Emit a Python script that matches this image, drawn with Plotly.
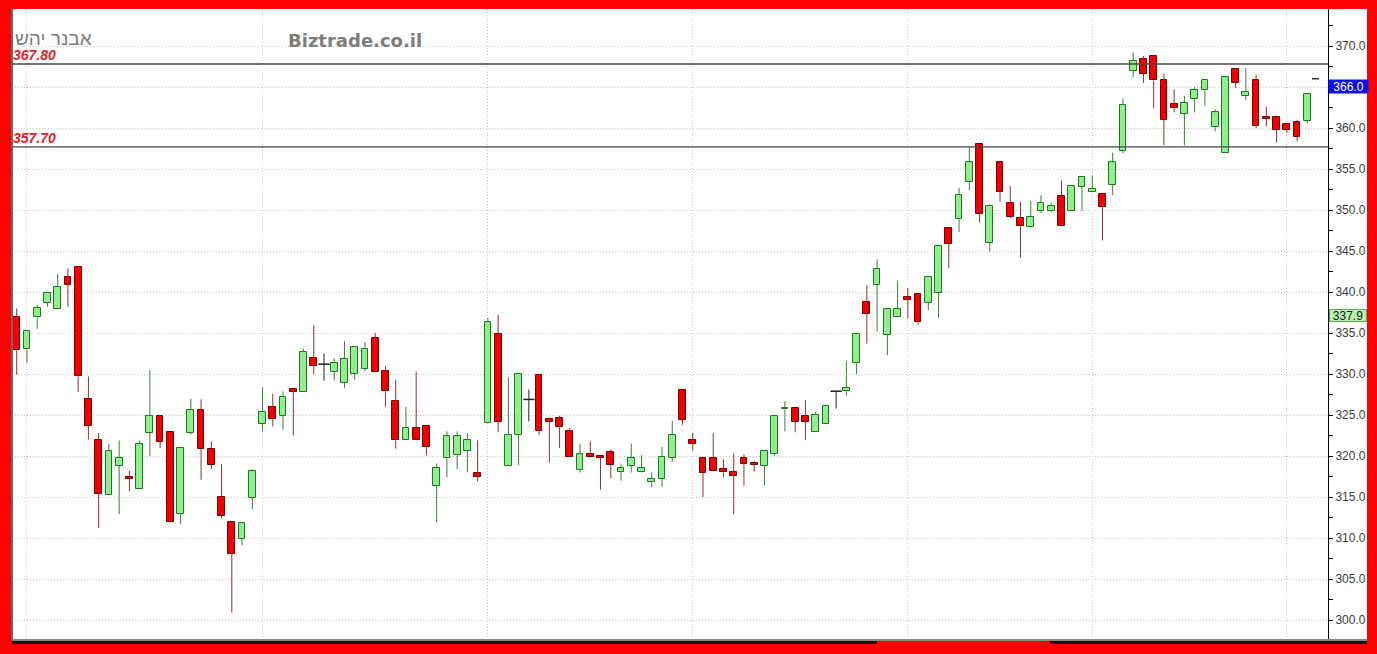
import plotly.graph_objects as go

# ---------------- data ----------------
opens = [336.9, 333.0, 336.9, 338.7, 337.9, 341.8, 343.0, 326.9, 321.9, 315.3,
         318.8, 317.4, 316.0, 322.8, 324.9, 322.9, 312.9, 322.8, 325.6, 320.9,
         315.0, 311.9, 309.9, 314.9, 323.9, 326.0, 324.9, 328.2, 327.8, 332.0,
         331.2, 330.3, 328.9, 330.0, 330.6, 334.4, 330.4, 326.7, 321.9, 323.4,
         323.7, 316.3, 319.7, 320.1, 320.6, 317.9, 324.0, 334.9, 318.8, 322.6,
         326.9, 329.9, 324.5, 324.6, 323.1, 318.3, 320.2, 320.0, 320.5, 318.1,
         318.8, 318.1, 316.8, 317.2, 319.8, 328.0, 321.9, 319.8, 319.8, 318.4,
         318.0, 319.7, 319.1, 318.8, 320.3, 325.7, 325.9, 324.9, 322.9, 323.9,
         327.9, 327.9, 331.3, 338.8, 340.9, 334.8, 336.9, 339.4, 339.7, 338.7,
         339.9, 347.8, 348.9, 353.4, 358.0, 346.0, 355.9, 350.9, 349.0, 347.9,
         349.9, 349.9, 351.7, 349.9, 352.8, 352.2, 351.9, 353.1, 357.2, 367.0,
         368.4, 368.8, 365.9, 362.9, 361.7, 363.5, 364.6, 360.1, 356.9, 367.2,
         363.9, 365.9, 361.4, 361.3, 360.5, 360.7, 360.9]
highs = [338.0, 335.4, 338.4, 340.0, 342.2, 342.9, 343.0, 329.7, 322.8, 321.5,
         321.9, 318.2, 321.9, 330.5, 324.9, 322.9, 321.0, 327.0, 326.9, 321.8,
         319.0, 311.9, 311.8, 318.4, 328.4, 327.6, 327.9, 328.2, 333.1, 336.0,
         332.5, 331.9, 334.0, 333.3, 333.9, 335.0, 331.0, 329.3, 326.0, 330.3,
         323.7, 319.1, 323.0, 323.0, 322.8, 321.9, 336.8, 337.2, 329.6, 330.0,
         328.1, 329.9, 324.5, 324.9, 323.4, 321.5, 321.8, 320.0, 320.8, 319.0,
         321.5, 320.1, 318.0, 321.1, 324.3, 328.0, 322.8, 319.8, 322.8, 319.6,
         320.3, 320.2, 319.4, 320.6, 324.9, 326.7, 325.9, 326.8, 325.4, 326.1,
         327.9, 331.6, 334.9, 340.8, 344.0, 337.9, 341.4, 340.5, 339.7, 341.8,
         345.6, 347.8, 352.7, 357.7, 358.0, 350.7, 355.9, 352.9, 351.0, 351.1,
         351.8, 350.9, 353.6, 352.9, 354.0, 354.2, 351.9, 357.0, 363.6, 369.2,
         368.8, 368.8, 366.6, 364.7, 363.9, 365.0, 365.9, 362.3, 366.2, 367.3,
         367.3, 366.5, 362.6, 361.3, 360.5, 361.0, 364.2]
lows = [329.9, 331.4, 335.5, 338.2, 337.9, 338.2, 327.8, 322.0, 311.2, 315.2,
        312.9, 315.7, 316.0, 320.0, 321.0, 311.9, 311.7, 322.6, 317.1, 318.4,
        312.4, 300.9, 309.1, 313.5, 323.0, 323.6, 323.2, 322.5, 327.8, 330.0,
        329.2, 329.2, 328.3, 329.3, 330.3, 330.3, 326.0, 320.9, 321.9, 321.9,
        320.1, 311.9, 317.4, 318.4, 318.0, 316.9, 324.0, 322.9, 318.8, 318.9,
        324.2, 322.6, 319.2, 321.0, 319.9, 318.0, 319.9, 315.9, 317.3, 317.0,
        318.0, 318.1, 316.2, 316.2, 319.3, 323.8, 320.7, 315.0, 318.2, 317.4,
        312.9, 316.4, 318.1, 316.4, 320.0, 323.0, 322.9, 322.0, 322.9, 323.9,
        325.8, 327.4, 330.0, 333.7, 335.2, 332.3, 336.9, 336.8, 336.0, 337.8,
        336.8, 342.9, 347.3, 352.4, 348.5, 344.9, 351.0, 349.0, 344.2, 347.9,
        349.6, 349.8, 348.1, 349.9, 349.9, 352.2, 346.3, 351.8, 356.9, 366.2,
        365.5, 362.4, 357.9, 361.9, 357.9, 361.9, 362.7, 359.6, 356.9, 364.9,
        363.4, 360.0, 360.2, 358.2, 359.4, 358.4, 360.6]
closes = [332.9, 335.3, 338.1, 339.9, 340.6, 340.9, 329.7, 323.7, 315.4, 320.6,
          319.8, 317.2, 321.5, 324.9, 321.7, 311.9, 321.0, 325.6, 320.9, 318.9,
          312.7, 308.1, 311.8, 318.2, 325.4, 324.5, 327.2, 327.8, 332.7, 331.0,
          331.2, 331.4, 331.8, 333.3, 333.1, 330.3, 327.9, 321.9, 323.4, 321.9,
          321.1, 318.5, 322.4, 322.4, 321.9, 317.5, 336.3, 324.2, 322.6, 330.0,
          326.9, 323.0, 324.2, 323.5, 319.9, 320.2, 319.9, 319.8, 318.9, 318.5,
          319.8, 318.5, 317.2, 319.9, 322.6, 324.4, 321.5, 317.9, 318.2, 318.0,
          317.6, 319.0, 318.9, 320.6, 324.9, 325.9, 324.2, 324.2, 325.0, 326.1,
          327.9, 328.3, 334.9, 337.3, 342.8, 337.9, 337.9, 339.0, 336.3, 341.8,
          345.6, 345.9, 351.8, 355.8, 349.5, 350.5, 352.2, 349.2, 348.0, 349.2,
          350.9, 350.5, 348.1, 352.9, 354.0, 352.6, 350.4, 355.8, 362.8, 368.2,
          366.6, 365.8, 361.0, 362.4, 363.1, 364.6, 365.9, 361.9, 366.2, 365.5,
          364.4, 360.3, 361.1, 359.8, 359.8, 358.9, 364.2]

month_start_idx = [1, 24, 46, 66, 87, 105, 124]
level_lines = [367.80, 357.70]
level_labels = ["367.80", "357.70"]
last_price = 366.0
last_price_label = "366.0"
ref_value = 337.9
ref_value_label = "337.9"
y_ticks = [300, 305, 310, 315, 320, 325, 330, 335, 340, 345, 350, 355, 360, 365, 370]
y_tick_labels = [f"{v:.1f}" for v in y_ticks]
watermark_left = "אבנר יהש"
watermark_mid = "Biztrade.co.il"

# ---------------- styling ----------------
W, H = 1377, 654
ML, MR, MT, MB = 12, 49, 9, 15
PW = W - ML - MR
PH = H - MT - MB
RED = "#ff0000"
UP_FILL, UP_LINE, UP_WICK = "#90ee90", "#1c7a1c", "#3c7d3c"
DN_FILL, DN_LINE, DN_WICK = "#f00000", "#7a0000", "#8e2f2f"
GRID = "#c8c8c8"
GRID_DASH = "1px,2px"

n = len(opens)
idx = list(range(n))
up = [i for i in idx if closes[i] > opens[i]]
dn = [i for i in idx if closes[i] < opens[i]]
dj = [i for i in idx if closes[i] == opens[i]]


def wicks(ids, split=True):
    xs, ys = [], []
    for i in ids:
        if split:
            top = max(opens[i], closes[i])
            bot = min(opens[i], closes[i])
            if highs[i] > top:
                xs += [i, i, None]
                ys += [top, highs[i], None]
            if lows[i] < bot:
                xs += [i, i, None]
                ys += [lows[i], bot, None]
        else:
            xs += [i, i, None]
            ys += [lows[i], highs[i], None]
    return xs, ys


fig = go.Figure()

for ids, col in ((up, UP_WICK), (dn, DN_WICK)):
    wx, wy = wicks(ids)
    fig.add_trace(go.Scatter(x=wx, y=wy, mode="lines", line=dict(color=col, width=1),
                             hoverinfo="skip", showlegend=False))
wx, wy = wicks(dj, split=False)
fig.add_trace(go.Scatter(x=wx, y=wy, mode="lines", line=dict(color="#202020", width=1),
                         hoverinfo="skip", showlegend=False))
fig.add_trace(go.Scatter(x=dj, y=[closes[i] for i in dj], mode="markers",
                         marker=dict(symbol="line-ew", size=8,
                                     line=dict(color="#202020", width=1.5)),
                         hoverinfo="skip", showlegend=False))

fig.add_trace(go.Bar(x=up, y=[closes[i] - opens[i] for i in up], base=[opens[i] for i in up],
                     width=0.66, marker=dict(color=UP_FILL, line=dict(color=UP_LINE, width=1)),
                     hoverinfo="skip", showlegend=False))
fig.add_trace(go.Bar(x=dn, y=[opens[i] - closes[i] for i in dn], base=[closes[i] for i in dn],
                     width=0.66, marker=dict(color=DN_FILL, line=dict(color=DN_LINE, width=1)),
                     hoverinfo="skip", showlegend=False))

# last price dash just right of the last candle
fig.add_trace(go.Scatter(x=[n - 0.2], y=[last_price], mode="markers",
                         marker=dict(symbol="line-ew", size=5, line=dict(color="#000000", width=1.2)),
                         hoverinfo="skip", showlegend=False))

x_left = -0.46
x_right = 128.02
y_top = 370 + 37 / 8.2
y_bot = 370 - (639 - 46) / 8.2

shapes = []
px = lambda v: v / PW
py = lambda v: v / PH
# white right-axis panel
shapes.append(dict(type="rect", xref="paper", yref="paper", x0=1, x1=1 + px(39), y0=0, y1=1,
                   fillcolor="white", line=dict(width=0), layer="below"))
# bottom strips
shapes.append(dict(type="rect", xref="paper", yref="paper", x0=0, x1=1 + px(39), y0=-py(2), y1=0,
                   fillcolor="#8a8a8a", line=dict(width=0)))
shapes.append(dict(type="rect", xref="paper", yref="paper", x0=0, x1=px(877 - ML), y0=-py(5), y1=-py(2),
                   fillcolor="#141414", line=dict(width=0)))
shapes.append(dict(type="rect", xref="paper", yref="paper", x0=px(1050 - ML), x1=1 + px(39), y0=-py(5), y1=-py(2),
                   fillcolor="#141414", line=dict(width=0)))
# left border line
shapes.append(dict(type="line", xref="paper", yref="paper", x0=0, x1=0, y0=-py(2), y1=1,
                   line=dict(color="#6a6a6a", width=2)))
# level lines
for lv in level_lines:
    shapes.append(dict(type="line", xref="paper", yref="y", x0=0, x1=1, y0=lv, y1=lv,
                       line=dict(color="#474747", width=1.4)))

annotations = []
for lv, lab in zip(level_lines, level_labels):
    annotations.append(dict(xref="paper", yref="y", x=0, y=lv, text=f"<b><i>{lab}</i></b>",
                            showarrow=False, xanchor="left", yanchor="bottom", xshift=0, yshift=2,
                            height=13, borderpad=0,
                            font=dict(family="Liberation Sans, Arial", size=14, color="#e3232b")))
annotations.append(dict(xref="paper", yref="paper", x=px(14 - ML), y=py(639 - 38), text=watermark_left,
                        showarrow=False, xanchor="left", yanchor="middle", height=18, borderpad=0,
                        font=dict(family="Liberation Sans, Arial", size=19, color="#7d7d7d")))
annotations.append(dict(xref="paper", yref="paper", x=px(355 - ML), y=py(639 - 40), text=f"<b>{watermark_mid}</b>",
                        showarrow=False, xanchor="center", yanchor="middle",
                        font=dict(family="DejaVu Sans, Verdana", size=18, color="#7d7d7d")))
annotations.append(dict(xref="paper", yref="y", x=1, y=last_price, text=last_price_label,
                        showarrow=False, xanchor="left", yanchor="top", xshift=0, yshift=0,
                        bgcolor="#0a10ee", width=37, height=11, borderpad=1,
                        font=dict(family="Liberation Sans, Arial", size=12, color="#ffffff")))
annotations.append(dict(xref="paper", yref="y", x=1, y=ref_value, text=ref_value_label,
                        showarrow=False, xanchor="left", yanchor="top", xshift=1, yshift=0,
                        bgcolor="#b9f2b0", bordercolor="#5aa65a", borderwidth=1, width=36, height=11, borderpad=0,
                        font=dict(family="Liberation Sans, Arial", size=12, color="#1a1a1a")))

fig.update_layout(
    width=W, height=H,
    margin=dict(l=ML, r=MR, t=MT, b=MB, pad=0),
    paper_bgcolor=RED, plot_bgcolor="white",
    barmode="overlay", bargap=0,
    showlegend=False,
    shapes=shapes, annotations=annotations,
    xaxis=dict(range=[x_left, x_right], tickvals=month_start_idx, showticklabels=False,
               showgrid=True, gridcolor=GRID, griddash=GRID_DASH, gridwidth=1,
               zeroline=False, showline=False, ticks="", fixedrange=True),
    yaxis=dict(side="right", range=[y_bot, y_top], tickvals=y_ticks, ticktext=y_tick_labels,
               ticks="outside", ticklen=4, tickcolor="#000000", tickwidth=1,
               minor=dict(dtick=2.5, tick0=0, ticks="outside", ticklen=4, tickcolor="#000000", showgrid=False),
               showline=True, linecolor="#000000", linewidth=1,
               showgrid=True, gridcolor=GRID, griddash=GRID_DASH, gridwidth=1, zeroline=False,
               tickfont=dict(family="Liberation Sans, Arial", size=12, color="#3c3c3c"),
               fixedrange=True),
)

fig.write_html("out.html", config={"displayModeBar": False},
               post_script="document.body.style.margin='0px';document.body.style.overflow='hidden';")
